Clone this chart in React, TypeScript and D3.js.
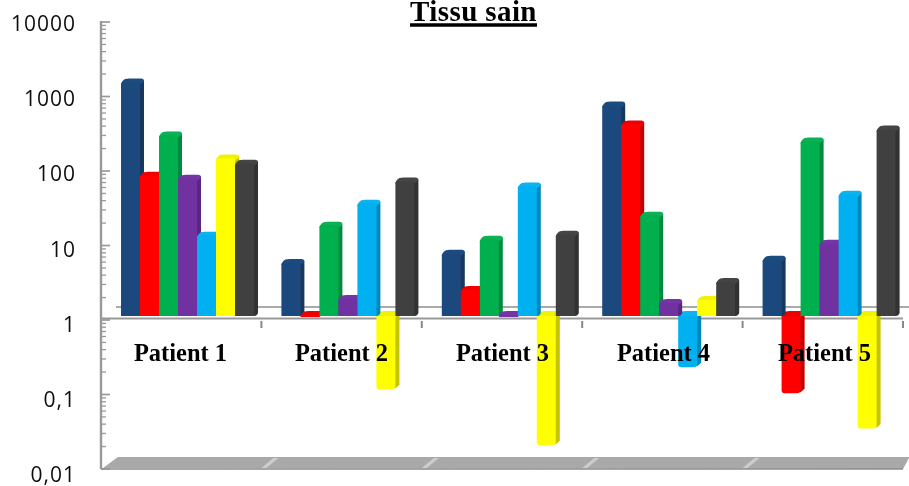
import React from "react";
import * as d3 from "d3";

const patients = ["Patient 1", "Patient 2", "Patient 3", "Patient 4", "Patient 5"];
const yTicks = [10000, 1000, 100, 10, 1, 0.1, 0.01];
const yTickLabels = ["10000", "1000", "100", "10", "1", "0,1", "0,01"];
const navy = [1750, 6.6, 8.75, 859, 7.27];
const red = [98, 1.28, 2.87, 477, 0.104];
const green = [339, 20.8, 13.5, 28.4, 281];
const purple = [89, 2.17, 1.28, 1.92, 11.9];
const cyan = [15.3, 41, 70, 0.233, 54.5];
const yellow = [167, 0.118, 0.0208, 2.1, 0.035];
const charcoal = [142, 81.5, 15.8, 3.67, 408];
const seriesValues = [navy, red, green, purple, cyan, yellow, charcoal];
const seriesNames = ["navy", "red", "green", "purple", "cyan", "yellow", "charcoal"];
const fronts = ["#1f497d", "#ff0000", "#00b050", "#7030a0", "#00b0f0", "#ffff00", "#404040"];
const sides = ["#18395f", "#c40000", "#008a3f", "#58267e", "#0088ba", "#c4c400", "#303030"];
const caps = ["#1f4b80", "#ee0000", "#08b055", "#7534a6", "#08b2f0", "#f2f200", "#454545"];

const W = 909;
const H = 486;
const axisX = 101;
const axisRight = 903;
const depthX = 4;
const capH = 5;
const posBase = 316;
const negTop = 311;

const y = d3.scaleLog().domain([0.01, 10000]).range([469, 22]);
const labelY = d3.scaleLog().domain([0.01, 10000]).range([482, 31]);
const x0 = d3.scaleBand<string>().domain(patients).range([axisX, axisRight]);
const x1 = d3.scaleBand<string>().domain(seriesNames).range([20, 153]);
const labelX = d3.scalePoint<string>().domain(patients).range([180.5, 824.5]);

const minorTicks = d3.range(-2, 4).flatMap((e) =>
  [2, 3, 4, 5, 6, 7, 8, 9].map((m) => m * Math.pow(10, e))
);

function barPaths(left: number, width: number, valueY: number) {
  const r = left + width;
  const rr = r + depthX;
  if (valueY <= 319) {
    const top = Math.min(valueY, posBase - capH);
    const fy = top + capH;
    return {
      side: `M${r - 1},${fy}L${rr - 1},${top + 1}Q${rr},${top + 1.5} ${rr},${top + 3}L${rr},${posBase - 3}Q${rr - 1},${posBase} ${r},${posBase}L${r - 1},${posBase}Z`,
      cap: `M${left},${fy + 1}Q${left},${top + 3} ${left + 4},${top + 0.5}Q${left + 6},${top} ${left + 8},${top}L${rr - 3},${top}Q${rr},${top} ${rr},${top + 3}L${r},${fy + 1}Z`,
      front: `M${left},${fy}Q${left + 1},${fy - 1} ${left + 3},${fy - 1}L${r - 1},${fy - 1}L${r},${fy}L${r},${posBase}L${left},${posBase}Z`,
    };
  }
  const bottom = valueY;
  return {
    side: `M${r - 1},${negTop + capH}L${rr - 1},${negTop + 1}Q${rr},${negTop + 1.5} ${rr},${negTop + 3}L${rr},${bottom - 5}Q${rr - 1},${bottom - 3} ${r},${bottom - 1}L${r - 1},${bottom - 1}Z`,
    cap: `M${left},${negTop + capH + 1}Q${left},${negTop + 3} ${left + 4},${negTop + 0.5}Q${left + 6},${negTop} ${left + 8},${negTop}L${rr - 3},${negTop}Q${rr},${negTop} ${rr},${negTop + 3}L${r},${negTop + capH + 1}Z`,
    front: `M${left},${negTop + capH}L${r},${negTop + capH}L${r},${bottom - 2}Q${r - 1},${bottom} ${r - 4},${bottom}L${left + 3},${bottom}Q${left},${bottom} ${left},${bottom - 3}Z`,
  };
}

function Bars({ negative }: { negative: boolean }) {
  return (
    <>
      {patients.map((p, i) => (
        <g key={p} transform={`translate(${x0(p)},0)`}>
          {seriesNames.map((s, k) => {
            const v = seriesValues[k][i];
            if (v < 1 !== negative) return null;
            const { front, side, cap } = barPaths(x1(s)!, x1.bandwidth(), y(v));
            return (
              <g key={s}>
                <path d={side} fill={sides[k]} />
                <path d={cap} fill={caps[k]} />
                <path d={front} fill={fronts[k]} />
              </g>
            );
          })}
        </g>
      ))}
    </>
  );
}

export default function App() {
  const floorTop = 457;
  const floorBottom = 469;
  return (
    <svg
      width={W}
      height={H}
      viewBox={`0 0 ${W} ${H}`}
      style={{ position: "absolute", left: 0, top: 0, background: "#fff" }}
    >
      <defs>
        <filter id="soft" x="-5%" y="-5%" width="110%" height="110%">
          <feGaussianBlur stdDeviation="0.7" />
        </filter>
        <filter id="softText" x="-5%" y="-5%" width="110%" height="110%">
          <feGaussianBlur stdDeviation="0.35" />
        </filter>
      </defs>

      <g filter="url(#soft)">
        <path
          d={`M${axisX + 2},${floorBottom - 1}L${axisX + 17},${floorTop}L${W},${floorTop}L${W},${floorTop + 1}L${axisRight},${floorBottom}Z`}
          fill="#a9a9a9"
        />
        <line x1={axisX} x2={axisRight} y1={floorBottom} y2={floorBottom} stroke="#8c8c8c" strokeWidth={1.5} />
        {patients.slice(1).map((p) => {
          const tx = x0(p)!;
          return (
            <path
              key={p}
              d={`M${tx},${floorBottom - 1}L${tx + 12},${floorTop + 1}L${tx + 17},${floorTop + 1}L${tx + 5},${floorBottom - 1}Z`}
              fill="#cdcdcd"
            />
          );
        })}

        <line x1={116} x2={W} y1={307} y2={307} stroke="#8e8e8e" strokeWidth={1.5} />

        <line x1={axisX} x2={axisX} y1={21} y2={469} stroke="#999" strokeWidth={2.4} />
        {minorTicks.map((t) => (
          <line key={t} x1={axisX} x2={106} y1={y(t)} y2={y(t)} stroke="#999" strokeWidth={1.3} />
        ))}
        {yTicks.map((t) => (
          <line key={t} x1={axisX} x2={110} y1={y(t)} y2={y(t)} stroke="#999" strokeWidth={1.7} />
        ))}

        <line x1={axisX} x2={axisRight} y1={318.5} y2={318.5} stroke="#999" strokeWidth={2} />
        {patients.map((p) => {
          const tx = x0(p)! + x0.bandwidth();
          return <line key={p} x1={tx} x2={tx} y1={321} y2={328} stroke="#888" strokeWidth={2} />;
        })}

        <Bars negative={true} />
        <Bars negative={false} />
      </g>

      <g filter="url(#softText)">
        {yTicks.map((t, i) => (
          <text
            key={t}
            x={76}
            y={labelY(t)}
            textAnchor="end"
            fontFamily="'Open Sans', sans-serif"
            fontSize={21}
            letterSpacing={1}
            fill="#111"
          >
            {yTickLabels[i]}
          </text>
        ))}
        {patients.map((p) => (
          <text
            key={p}
            x={labelX(p)}
            y={361}
            textAnchor="middle"
            fontFamily="'Liberation Serif', serif"
            fontWeight={700}
            fontSize={24.5}
            fill="#000"
          >
            {p}
          </text>
        ))}
        <text
          x={473.5}
          y={21}
          textAnchor="middle"
          fontFamily="'Liberation Serif', serif"
          fontWeight={700}
          fontSize={29}
          letterSpacing={0.4}
          fill="#000"
        >
          Tissu sain
        </text>
        <line x1={410} x2={537} y1={25} y2={25} stroke="#000" strokeWidth={3.5} />
      </g>
    </svg>
  );
}
